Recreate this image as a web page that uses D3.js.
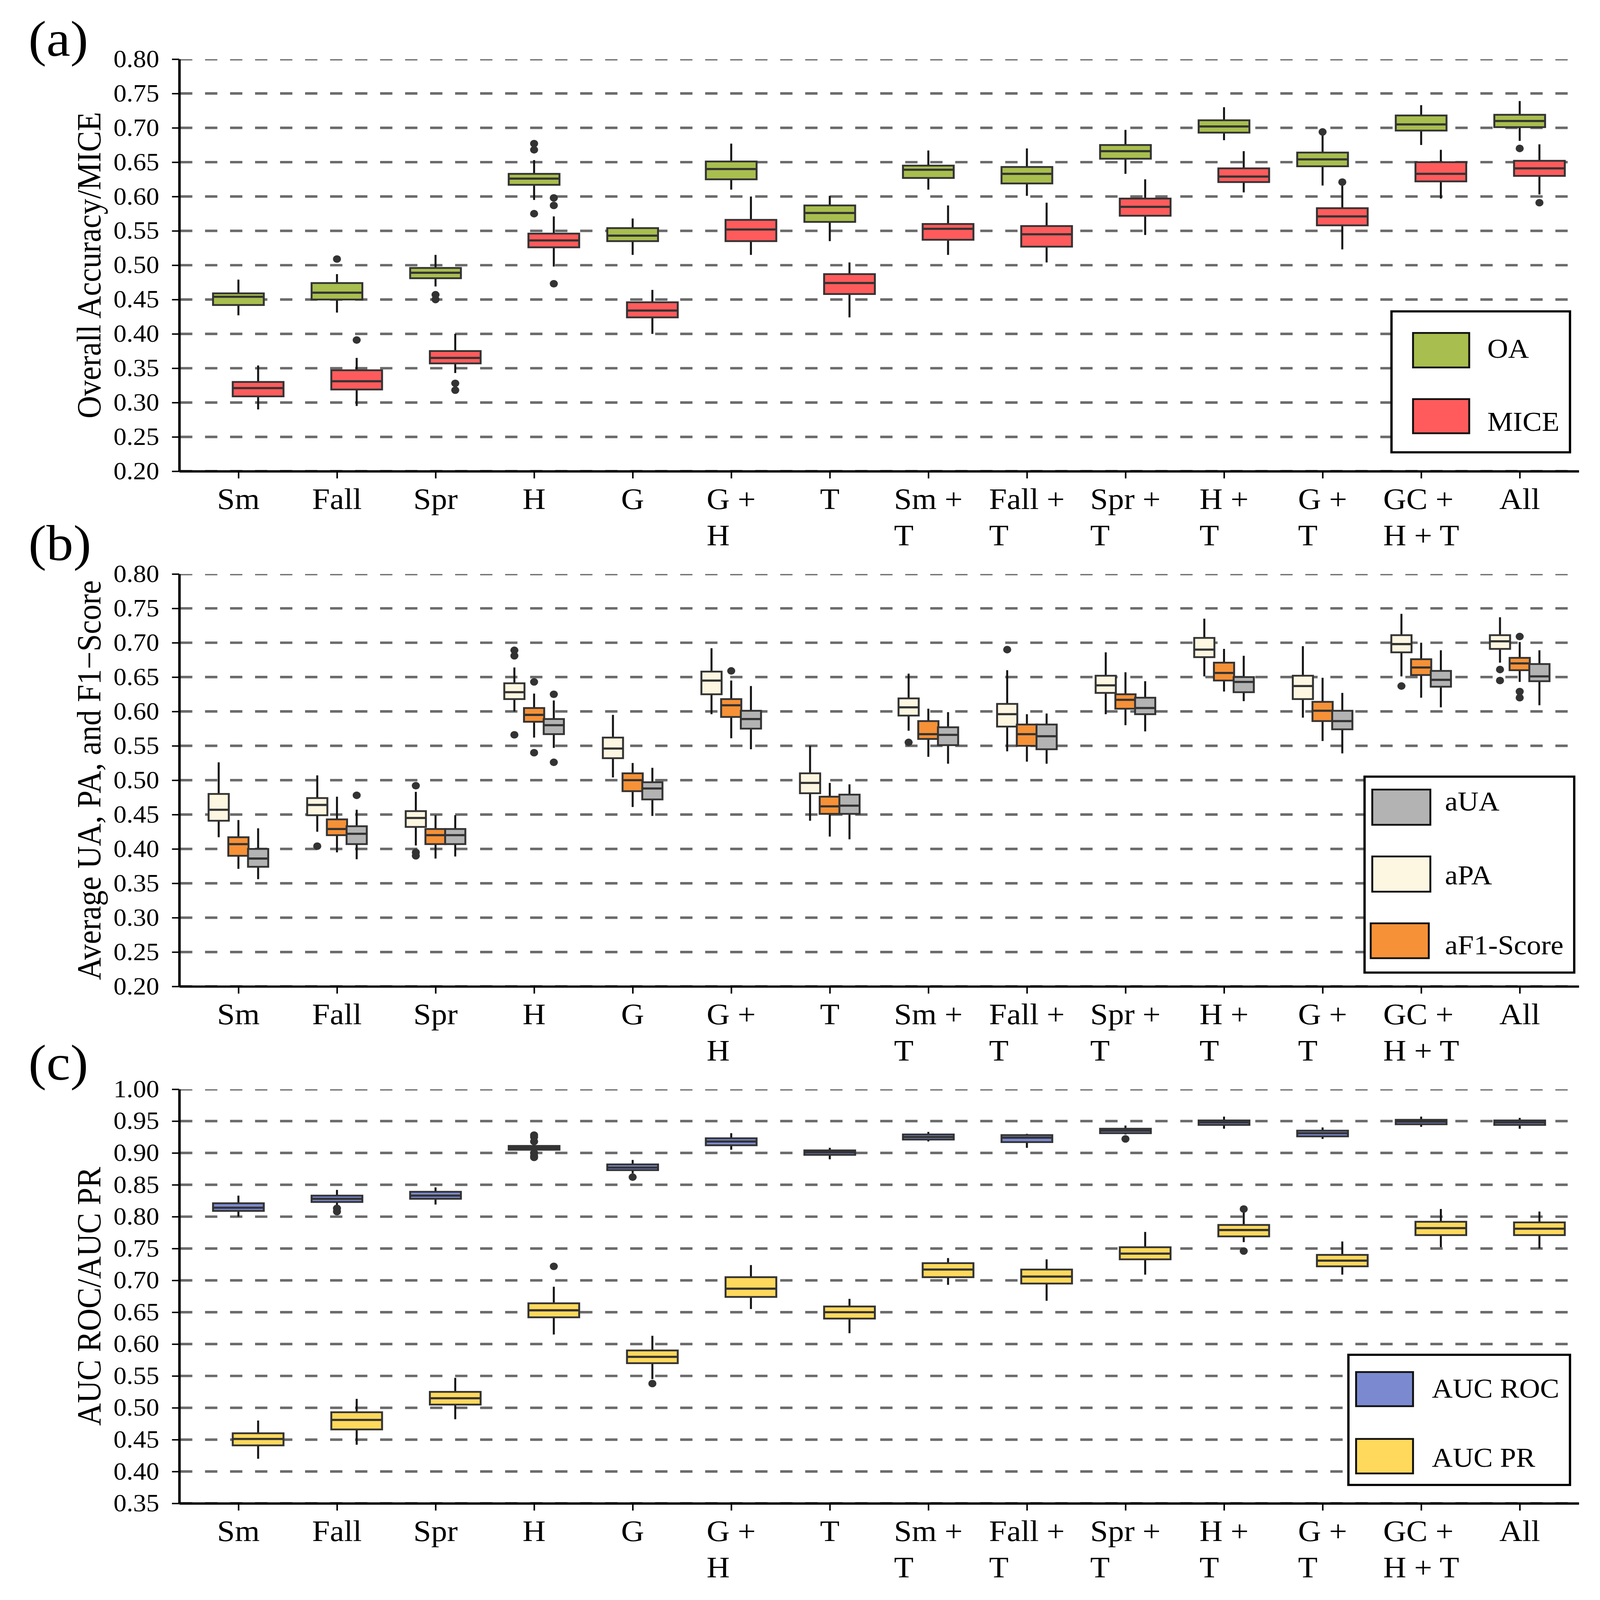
<!DOCTYPE html>
<html><head><meta charset="utf-8">
<script src="https://cdn.jsdelivr.net/npm/d3@7"></script>
<style>html,body{margin:0;padding:0;background:#fff;overflow:hidden}svg{display:block}</style>
</head><body><svg id="chart"></svg>
<script>
// ---------------- DATA ----------------
const categories = ["Sm","Fall","Spr","H","G","G +\nH","T","Sm +\nT","Fall +\nT","Spr +\nT","H +\nT","G +\nT","GC +\nH + T","All"];

// each entry: [whisker low, Q1, median, Q3, whisker high]
const oaStats = [
  [0.427,0.442,0.454,0.459,0.479],[0.431,0.450,0.460,0.474,0.487],[0.469,0.481,0.489,0.496,0.515],
  [0.595,0.617,0.626,0.633,0.653],[0.515,0.535,0.543,0.554,0.568],[0.610,0.625,0.640,0.651,0.677],
  [0.535,0.563,0.576,0.587,0.601],[0.610,0.627,0.639,0.645,0.667],[0.601,0.619,0.633,0.643,0.670],
  [0.633,0.655,0.666,0.675,0.697],[0.682,0.693,0.702,0.711,0.730],[0.616,0.644,0.654,0.664,0.690],
  [0.675,0.696,0.705,0.718,0.733],[0.681,0.701,0.710,0.719,0.739]];
const oaOutliers = [[],[0.509],[0.457,0.450],[0.677,0.668,0.575],[],[],[],[],[],[],[],[0.694],[],[0.670]];

const miceStats = [
  [0.290,0.309,0.321,0.330,0.354],[0.295,0.319,0.331,0.347,0.365],[0.343,0.357,0.365,0.375,0.400],
  [0.498,0.526,0.536,0.546,0.571],[0.400,0.424,0.434,0.446,0.464],[0.515,0.535,0.552,0.566,0.600],
  [0.424,0.458,0.474,0.487,0.504],[0.515,0.537,0.553,0.560,0.587],[0.504,0.527,0.545,0.557,0.591],
  [0.544,0.572,0.585,0.597,0.625],[0.606,0.621,0.629,0.641,0.666],[0.523,0.558,0.571,0.583,0.617],
  [0.597,0.622,0.633,0.650,0.668],[0.603,0.630,0.641,0.652,0.676]];
const miceOutliers = [[],[0.391],[0.328,0.318],[0.598,0.587,0.473],[],[],[],[],[],[],[],[0.621],[],[0.591]];

const paStats = [
  [0.417,0.441,0.457,0.480,0.526],[0.425,0.449,0.464,0.474,0.507],[0.405,0.432,0.445,0.455,0.483],
  [0.600,0.618,0.628,0.641,0.664],[0.504,0.532,0.546,0.562,0.595],[0.596,0.625,0.645,0.658,0.692],
  [0.441,0.481,0.496,0.510,0.550],[0.572,0.594,0.606,0.619,0.655],[0.542,0.578,0.596,0.611,0.660],
  [0.596,0.627,0.638,0.652,0.686],[0.651,0.679,0.690,0.707,0.735],[0.591,0.618,0.637,0.652,0.695],
  [0.651,0.686,0.698,0.711,0.742],[0.671,0.691,0.702,0.711,0.737]];
const paOutliers = [[],[0.404],[0.492,0.395,0.390],[0.689,0.681,0.566],[],[],[],[0.555],[0.690],[],[],[],[0.637],[0.661,0.645]];

const f1Stats = [
  [0.371,0.390,0.407,0.417,0.442],[0.395,0.420,0.429,0.443,0.476],[0.386,0.407,0.420,0.429,0.449],
  [0.562,0.585,0.595,0.605,0.626],[0.461,0.484,0.500,0.510,0.525],[0.561,0.592,0.609,0.618,0.645],
  [0.418,0.451,0.462,0.476,0.496],[0.534,0.560,0.567,0.586,0.604],[0.527,0.550,0.567,0.581,0.596],
  [0.580,0.604,0.617,0.625,0.657],[0.629,0.645,0.656,0.671,0.691],[0.557,0.586,0.601,0.614,0.649],
  [0.620,0.653,0.664,0.676,0.700],[0.643,0.660,0.670,0.678,0.701]];
const f1Outliers = [[],[],[],[0.643,0.540],[],[0.659],[],[],[],[],[],[],[],[0.709,0.629,0.620]];

const uaStats = [
  [0.356,0.374,0.386,0.400,0.430],[0.385,0.407,0.422,0.433,0.457],[0.389,0.407,0.420,0.429,0.449],
  [0.547,0.567,0.580,0.589,0.616],[0.448,0.472,0.488,0.497,0.518],[0.545,0.575,0.589,0.601,0.637],
  [0.414,0.451,0.463,0.479,0.494],[0.524,0.551,0.566,0.577,0.599],[0.524,0.545,0.564,0.581,0.597],
  [0.571,0.596,0.605,0.620,0.644],[0.615,0.628,0.643,0.650,0.681],[0.539,0.574,0.586,0.601,0.627],
  [0.606,0.636,0.646,0.659,0.689],[0.609,0.644,0.651,0.669,0.689]];
const uaOutliers = [[],[0.478],[],[0.625,0.526],[],[],[],[],[],[],[],[],[],[]];

const rocStats = [
  [0.800,0.809,0.814,0.821,0.833],[0.815,0.823,0.828,0.833,0.842],[0.819,0.828,0.833,0.839,0.846],
  [0.902,0.905,0.908,0.911,0.914],[0.868,0.873,0.877,0.882,0.889],[0.905,0.912,0.918,0.923,0.931],
  [0.890,0.897,0.901,0.904,0.908],[0.918,0.921,0.925,0.929,0.933],[0.908,0.917,0.924,0.928,0.930],
  [0.929,0.931,0.935,0.938,0.943],[0.938,0.944,0.948,0.951,0.957],[0.922,0.926,0.931,0.935,0.940],
  [0.941,0.945,0.949,0.952,0.957],[0.938,0.944,0.948,0.951,0.955]];
const rocOutliers = [[],[0.813,0.808],[],[0.928,0.925,0.918,0.900,0.895,0.893],[0.862],[],[],[],[],[0.922],[],[],[],[]];

const prStats = [
  [0.420,0.441,0.451,0.460,0.480],[0.442,0.466,0.481,0.493,0.514],[0.482,0.505,0.515,0.525,0.547],
  [0.615,0.642,0.653,0.664,0.690],[0.545,0.570,0.580,0.590,0.613],[0.655,0.674,0.687,0.705,0.724],
  [0.617,0.640,0.650,0.659,0.671],[0.693,0.705,0.717,0.727,0.735],[0.668,0.695,0.706,0.717,0.733],
  [0.709,0.733,0.742,0.752,0.776],[0.760,0.769,0.779,0.787,0.807],[0.709,0.722,0.731,0.740,0.761],
  [0.752,0.771,0.782,0.792,0.812],[0.750,0.771,0.781,0.791,0.808]];
const prOutliers = [[],[],[],[0.722],[0.538],[],[],[],[],[],[0.812,0.746],[],[],[]];

const yTicksAB = [0.20,0.25,0.30,0.35,0.40,0.45,0.50,0.55,0.60,0.65,0.70,0.75,0.80];
const yTicksC = [0.35,0.40,0.45,0.50,0.55,0.60,0.65,0.70,0.75,0.80,0.85,0.90,0.95,1.00];

// ---------------- LAYOUT ----------------
// drawing is laid out on the reference's 4159x4450 canvas and fitted to the window
const W = 4159, H = 4450;
const VW = window.innerWidth || W, VH = window.innerHeight || H;
const FONT = "'Liberation Serif','Times New Roman',Times,serif";
const PLOT_L = 466, PLOT_R = 4104;
const svg = d3.select('#chart').attr('width', VW).attr('height', VH)
  .attr('viewBox', `0 0 ${W} ${H}`).attr('preserveAspectRatio', 'none');
svg.append('rect').attr('width', W).attr('height', H).attr('fill', '#fff');
const defs = svg.append('defs');

const x = d3.scaleLinear().domain([-0.6, categories.length - 1 + 0.6]).range([PLOT_L, PLOT_R]);

const panels = [
  { letter: 'a', letterY: 155, top: 164.5, bottom: 1310.6, domain: [0.20, 0.80], ticks: yTicksAB,
    ylabel: 'Overall Accuracy/MICE',
    series: [
      { name: 'OA', stats: oaStats, out: oaOutliers, color: '#a8be4e', offset: 0, width: 0.515 },
      { name: 'MICE', stats: miceStats, out: miceOutliers, color: '#ff5b5c', offset: 0.2, width: 0.515 }],
    legend: { box: [3617, 866, 4081, 1258], textX: 3866,
      items: [{ name: 'OA', color: '#a8be4e', patch: [3673, 926, 146, 96], base: 995 },
              { name: 'MICE', color: '#ff5b5c', patch: [3673, 1110, 146, 95], base: 1198 }] } },
  { letter: 'b', letterY: 1558, top: 1596.4, bottom: 2743.4, domain: [0.20, 0.80], ticks: yTicksAB,
    ylabel: 'Average UA, PA, and F1\u2212Score',
    series: [
      { name: 'aPA', stats: paStats, out: paOutliers, color: '#fdf6e1', offset: -0.2, width: 0.205 },
      { name: 'aF1-Score', stats: f1Stats, out: f1Outliers, color: '#f69137', offset: 0, width: 0.205 },
      { name: 'aUA', stats: uaStats, out: uaOutliers, color: '#b3b3b3', offset: 0.2, width: 0.205 }],
    legend: { box: [3547, 2160, 4092, 2705], textX: 3756,
      items: [{ name: 'aUA', color: '#b3b3b3', patch: [3567, 2196, 151, 98], base: 2254 },
              { name: 'aPA', color: '#fdf6e1', patch: [3567, 2382, 151, 98], base: 2460 },
              { name: 'aF1-Score', color: '#f69137', patch: [3563, 2568, 151, 97], base: 2654 }] } },
  { letter: 'c', letterY: 3003, top: 3029.4, bottom: 4181.2, domain: [0.35, 1.00], ticks: yTicksC,
    ylabel: 'AUC ROC/AUC PR',
    series: [
      { name: 'AUC ROC', stats: rocStats, out: rocOutliers, color: '#7b8ad0', offset: 0, width: 0.515 },
      { name: 'AUC PR', stats: prStats, out: prOutliers, color: '#ffd95c', offset: 0.2, width: 0.515 }],
    legend: { box: [3505, 3768, 4081, 4130], textX: 3722,
      items: [{ name: 'AUC ROC', color: '#7b8ad0', patch: [3525, 3816, 148, 95], base: 3887 },
              { name: 'AUC PR', color: '#ffd95c', patch: [3525, 4002, 148, 96], base: 4079 }] } }
];

panels.forEach(p => {
  const y = d3.scaleLinear().domain(p.domain).range([p.bottom, p.top]);
  const g = svg.append('g');
  const clipId = 'clip-' + p.letter;
  defs.append('clipPath').attr('id', clipId).append('rect')
    .attr('x', PLOT_L).attr('y', p.top).attr('width', PLOT_R - PLOT_L).attr('height', p.bottom - p.top);

  // grid
  g.append('g').attr('clip-path', `url(#${clipId})`)
    .selectAll('line').data(p.ticks).join('line')
    .attr('x1', PLOT_L + 2).attr('x2', PLOT_R).attr('y1', d => y(d)).attr('y2', d => y(d))
    .attr('stroke', '#6b6b6b').attr('stroke-width', 7).attr('stroke-dasharray', '32 33');

  // boxes
  p.series.forEach(s => {
    const half = (x(s.width) - x(0)) / 2;
    const sg = g.append('g');
    s.stats.forEach((st, i) => {
      const cx = x(i + s.offset);
      const [lo, q1, md, q3, hi] = st;
      sg.append('line').attr('x1', cx).attr('x2', cx).attr('y1', y(lo)).attr('y2', y(q1))
        .attr('stroke', '#151515').attr('stroke-width', 5.2);
      sg.append('line').attr('x1', cx).attr('x2', cx).attr('y1', y(q3)).attr('y2', y(hi))
        .attr('stroke', '#151515').attr('stroke-width', 5.2);
      sg.append('rect').attr('x', cx - half).attr('y', y(q3)).attr('width', 2 * half)
        .attr('height', y(q1) - y(q3)).attr('fill', s.color).attr('stroke', '#333').attr('stroke-width', 5);
      sg.append('line').attr('x1', cx - half).attr('x2', cx + half).attr('y1', y(md)).attr('y2', y(md))
        .attr('stroke', '#333').attr('stroke-width', 6);
      sg.selectAll(null).data(s.out[i]).join('circle')
        .attr('cx', cx).attr('cy', d => y(d)).attr('r', 10.5).attr('fill', '#333');
    });
  });

  // axes
  const ya = g.append('g').attr('transform', `translate(${PLOT_L},0)`)
    .call(d3.axisLeft(y).tickValues(p.ticks).tickFormat(d3.format('.2f')).tickSize(19).tickSizeOuter(0).tickPadding(33));
  ya.select('.domain').attr('stroke', '#000').attr('stroke-width', 6.5);
  ya.selectAll('.tick line').attr('stroke', '#000').attr('stroke-width', 4);
  ya.selectAll('.tick text').attr('font-family', FONT).attr('font-size', 68).attr('fill', '#000');

  const xa = g.append('g').attr('transform', `translate(0,${p.bottom})`)
    .call(d3.axisBottom(x).tickValues(d3.range(categories.length)).tickFormat('').tickSize(20).tickSizeOuter(0));
  xa.select('.domain').attr('stroke', '#000').attr('stroke-width', 6.5);
  xa.selectAll('.tick line').attr('stroke', '#000').attr('stroke-width', 4);

  // x labels (multi-line, lines left aligned, block centered on tick)
  categories.forEach((c, i) => {
    const lines = c.split('\n');
    const t = g.append('text').attr('font-family', FONT).attr('font-size', 83).attr('fill', '#000');
    const spans = lines.map((ln, k) => t.append('tspan').attr('y', p.bottom + 105 + k * 101).text(ln));
    const wmax = d3.max(spans, sp => sp.node().getComputedTextLength());
    spans.forEach(sp => sp.attr('x', x(i) - wmax / 2));
  });

  // y label
  svg.append('text').attr('transform', `translate(261,${(p.top + p.bottom) / 2}) rotate(-90)`)
    .attr('text-anchor', 'middle').attr('font-family', FONT).attr('font-size', 87).attr('fill', '#000')
    .text(p.ylabel);

  // panel letter
  svg.append('text').attr('x', 74).attr('y', p.letterY).attr('font-family', FONT).attr('font-size', 140)
    .attr('fill', '#000').text(`(${p.letter})`);

  // legend
  const L = p.legend;
  const lg = svg.append('g');
  lg.append('rect').attr('x', L.box[0]).attr('y', L.box[1]).attr('width', L.box[2] - L.box[0])
    .attr('height', L.box[3] - L.box[1]).attr('fill', '#fff').attr('stroke', '#000').attr('stroke-width', 6);
  L.items.forEach(it => {
    lg.append('rect').attr('x', it.patch[0]).attr('y', it.patch[1]).attr('width', it.patch[2]).attr('height', it.patch[3])
      .attr('fill', it.color).attr('stroke', '#111').attr('stroke-width', 5);
    lg.append('text').attr('x', L.textX).attr('y', it.base).attr('font-family', FONT).attr('font-size', 75)
      .attr('fill', '#000').text(it.name);
  });
});
</script></body></html>
